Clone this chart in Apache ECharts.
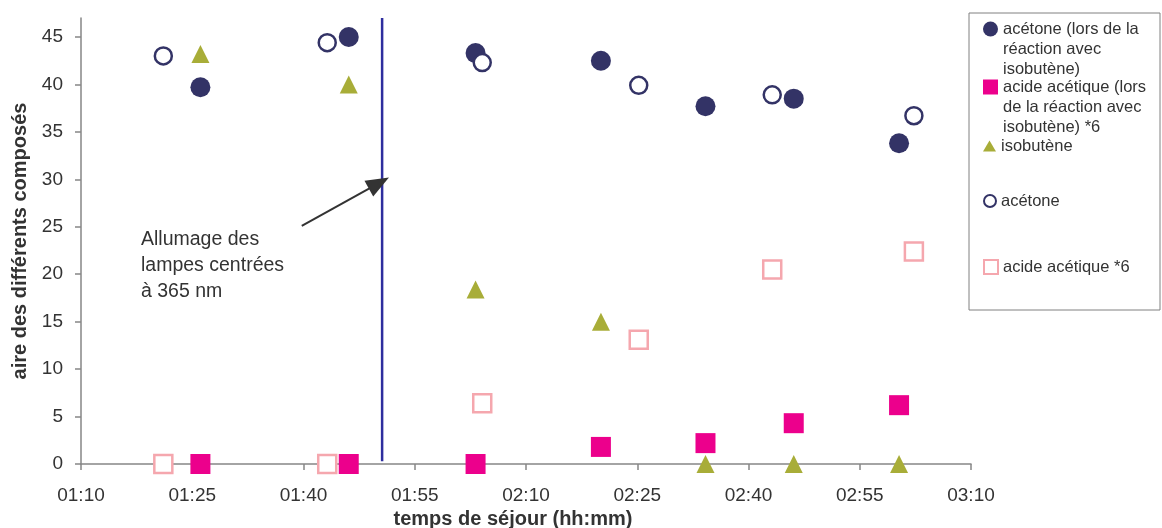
<!DOCTYPE html>
<html><head><meta charset="utf-8">
<script src="https://cdn.jsdelivr.net/npm/echarts@6/dist/echarts.min.js"></script>
<style>html,body{margin:0;padding:0;background:#fff}#c{width:1162px;height:528px}</style>
</head><body><div id="c"></div>
<script>
// ---- data ----
const timesReaction = ['01:26:06','01:46:06','02:03:12','02:20:06','02:34:12','02:46:06','03:00:18'];
const acetoneReaction = [39.7, 45.0, 43.3, 42.5, 37.7, 38.5, 33.8];
const aceticReaction = [0, 0, 0, 1.8, 2.2, 4.3, 6.2];
const isobutene = [43.2, 40.0, 18.4, 15.0, 0, 0, 0];
const timesRef = ['01:21:06','01:43:12','02:04:06','02:25:12','02:43:12','03:02:18'];
const acetone = [43.0, 44.4, 42.3, 39.9, 38.9, 36.7];
const acetic = [0, 0, 6.4, 13.1, 20.5, 22.4];
const lampTimes = ['01:50:36', '01:50:36'];
const lampValues = [0.3, 47];
const arrowTimes = ['01:39:46', '01:50:10'];
const arrowValues = [25.1, 29.6];
const xTickLabels = ['01:10','01:25','01:40','01:55','02:10','02:25','02:40','02:55','03:10'];
const yTicks = [0, 5, 10, 15, 20, 25, 30, 35, 40, 45];
const seriesNames = [
  'acétone (lors de la réaction avec isobutène)',
  'acide acétique (lors de la réaction avec isobutène) *6',
  'isobutène',
  'acétone',
  'acide acétique *6'
];
const legendLines = [
  ['acétone (lors de la', 'réaction avec', 'isobutène)'],
  ['acide acétique (lors', 'de la réaction avec', 'isobutène) *6'],
  ['isobutène'],
  ['acétone'],
  ['acide acétique *6']
];
const annotationLines = ['Allumage des', 'lampes centrées', 'à 365 nm'];

// ---- helpers ----
function toMin(s) { const p = s.split(':').map(Number); return p[0] * 60 + p[1] + (p[2] || 0) / 60; }
function fmt(v) { const h = Math.floor(v / 60), m = Math.round(v - h * 60); return String(h).padStart(2, '0') + ':' + String(m).padStart(2, '0'); }
function pairs(ts, vs) { return ts.map((t, i) => [toMin(t), vs[i]]); }

const FONT = 'Liberation Sans';
const NAVY = '#333366', MAG = '#EC008C', OLIVE = '#A8AD38', PINK = '#F5A7AE', LAMP = '#2E2E9E';

const legendIconY = [29, 87, 146, 201, 267];
const legendIcons = [[15, 15], [15, 15], [13, 11], [12, 12], [14, 14]];
const LH = 20;
const legends = seriesNames.map((n, i) => {
  const nl = legendLines[i].length;
  const blockLines = 2 * (nl - 1) + 1;
  return {
    data: [n], orient: 'vertical', left: 983, top: legendIconY[i] - blockLines * LH / 2,
    padding: 0, itemWidth: legendIcons[i][0], itemHeight: legendIcons[i][1], itemGap: 0,
    selectedMode: false,
    textStyle: { fontFamily: FONT, fontSize: 16.5, color: '#333', lineHeight: LH },
    formatter: () => '\n'.repeat(nl - 1) + legendLines[i].join('\n')
  };
});

const chart = echarts.init(document.getElementById('c'), null, { renderer: 'canvas' });
chart.setOption({
  animation: false,
  backgroundColor: '#fff',
  grid: { left: 81, right: 191, top: 18, bottom: 64, containLabel: false, outerBoundsMode: 'none' },
  legend: legends,
  xAxis: {
    type: 'value', min: toMin(xTickLabels[0]), max: toMin(xTickLabels[xTickLabels.length - 1]),
    name: 'temps de séjour (hh:mm)', nameLocation: 'middle', nameGap: 44,
    nameTextStyle: { fontFamily: FONT, fontSize: 20, fontWeight: 'bold', color: '#333', padding: [0, 26, 0, 0] },
    axisLine: { show: true, lineStyle: { color: '#868686', width: 1.5 } },
    axisTick: { show: true, inside: false, length: 6, customValues: xTickLabels.map(toMin), lineStyle: { color: '#868686', width: 1.5 } },
    axisLabel: { customValues: xTickLabels.map(toMin), formatter: v => fmt(v), margin: 22, fontFamily: FONT, fontSize: 19, color: '#333' },
    splitLine: { show: false }
  },
  yAxis: {
    type: 'value', min: 0, max: 47,
    name: 'aire des différents composés', nameLocation: 'middle', nameGap: 45,
    nameTextStyle: { fontFamily: FONT, fontSize: 20, fontWeight: 'bold', color: '#333' },
    axisLine: { show: true, lineStyle: { color: '#868686', width: 1.5 } },
    axisTick: { show: true, inside: false, length: 6, customValues: yTicks, lineStyle: { color: '#868686', width: 1.5 } },
    axisLabel: { customValues: yTicks, margin: 18, fontFamily: FONT, fontSize: 19, color: '#333' },
    splitLine: { show: false }
  },
  graphic: [
    { type: 'rect', shape: { x: 969, y: 13, width: 191, height: 297 }, style: { fill: 'none', stroke: '#808080', lineWidth: 1 }, silent: true },
    { type: 'text', x: 141, y: 227, style: { text: annotationLines.join('\n'), fontFamily: FONT, fontSize: 19.5, lineHeight: 26, fill: '#333', verticalAlign: 'top' }, silent: true }
  ],
  series: [
    { name: seriesNames[0], type: 'scatter', symbol: 'circle', symbolSize: 20, data: pairs(timesReaction, acetoneReaction), itemStyle: { color: NAVY, opacity: 1 }, emphasis: { disabled: true } },
    { name: seriesNames[1], type: 'scatter', symbol: 'rect', symbolSize: 20, data: pairs(timesReaction, aceticReaction), itemStyle: { color: MAG, opacity: 1 }, emphasis: { disabled: true } },
    { name: seriesNames[2], type: 'scatter', symbol: 'triangle', symbolSize: [18, 18], data: pairs(timesReaction, isobutene), itemStyle: { color: OLIVE, opacity: 1 }, emphasis: { disabled: true } },
    { name: seriesNames[3], type: 'scatter', symbol: 'circle', symbolSize: 17, data: pairs(timesRef, acetone), itemStyle: { color: '#fff', borderColor: NAVY, borderWidth: 2.5, opacity: 1 }, emphasis: { disabled: true } },
    { name: seriesNames[4], type: 'scatter', symbol: 'rect', symbolSize: 18, data: pairs(timesRef, acetic), itemStyle: { color: '#fff', borderColor: PINK, borderWidth: 2.5, opacity: 1 }, emphasis: { disabled: true } },
    {
      name: 'lampes', type: 'line', data: pairs(lampTimes, lampValues), symbol: 'none', silent: true,
      lineStyle: { color: LAMP, width: 2.5 }, z: 1,
      markLine: {
        silent: true, animation: false, label: { show: false },
        lineStyle: { color: '#333', width: 2, type: 'solid' },
        data: [[
          { coord: [toMin(arrowTimes[0]), arrowValues[0]], symbol: 'none' },
          { coord: [toMin(arrowTimes[1]), arrowValues[1]], symbol: 'triangle', symbolSize: [18, 23] }
        ]]
      }
    }
  ]
});
</script></body></html>
